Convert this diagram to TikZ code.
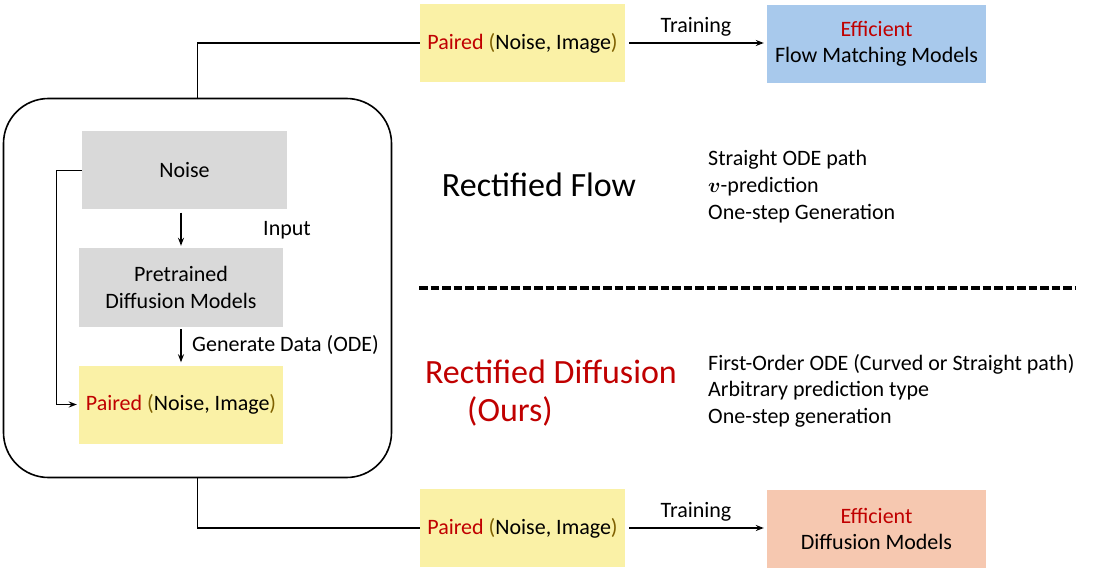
\documentclass[tikz,border=0pt]{standalone}
\usepackage{fontspec}
\usepackage{amsmath}
\setmainfont{Carlito}
\usetikzlibrary{arrows.meta}
\definecolor{myred}{HTML}{C00000}
\definecolor{olive}{HTML}{7F6000}
\definecolor{boxgray}{RGB}{217,217,217}
\definecolor{boxyellow}{RGB}{250,241,166}
\definecolor{boxblue}{RGB}{168,201,236}
\definecolor{boxsalmon}{RGB}{246,200,176}
\newcommand{\pairtext}{\textcolor{myred}{Paired} \textcolor{olive}{(}Noise, Image\textcolor{olive}{)}}
\begin{document}
\begin{tikzpicture}[x=1pt,y=-1pt,
  txt/.style={font=\fontsize{22}{26.5}\selectfont},
  box/.style={txt, inner sep=0pt, align=center, minimum width=205pt, minimum height=78pt},
  big/.style={font=\fontsize{34}{39}\selectfont},
  item/.style={txt, anchor=west, inner sep=0pt, text height=15pt, text depth=5pt},
  conn/.style={line width=1.3pt},
  arr/.style={conn, -{Stealth[length=8pt,width=6pt]}}
]
\useasboundingbox (0,0) rectangle (1100,572);
% outer rounded frame
\node[draw, line width=1.6pt, rounded corners=45pt, minimum width=388pt, minimum height=379pt] (outer) at (197.5,288) {};
% inner boxes
\node[box, fill=boxgray] (noise) at (184.5,170.5) {Noise};
\node[box, fill=boxgray, minimum width=204pt, minimum height=79pt] (pre) at (181,287.5) {Pretrained\\Diffusion Models};
\node[box, fill=boxyellow, minimum width=204pt] (pairL) at (181,404.5) {\pairtext};
% inner arrows
\draw[arr, shorten <=3pt, shorten >=2pt] (pre.north |- noise.south) -- (pre.north);
\draw[arr, shorten <=2pt, shorten >=3pt] (pre.south) -- (pairL.north);
\node[txt] (inlab) at (287,230) {Input};
\node[txt, anchor=west, inner sep=0pt] (genlab) at (192,345) {Generate Data (ODE)};
\draw[arr, shorten >=2pt] (noise.west) -- ++(-25,0) |- (pairL.west);
% top row
\node[box, fill=boxyellow] (pairT) at (522.5,43) {\pairtext};
\node[box, fill=boxblue, minimum width=219pt] (blue) at (876.5,44) {\textcolor{myred}{Efficient}\\Flow Matching Models};
\draw[conn] (outer.north) |- (pairT.west);
\draw[arr, shorten <=4pt, shorten >=3pt] (pairT.east) -- node[txt, above=3pt] (trT) {Training} (blue.west |- pairT.east);
% bottom row
\node[box, fill=boxyellow] (pairB) at (522.5,528) {\pairtext};
\node[box, fill=boxsalmon, minimum width=219pt] (salmon) at (876.5,529) {\textcolor{myred}{Efficient}\\Diffusion Models};
\draw[conn] (outer.south) |- (pairB.west);
\draw[arr, shorten <=4pt, shorten >=3pt] (pairB.east) -- node[txt, above=3pt] (trB) {Training} (salmon.west |- pairB.east);
% titles
\node[big] (rf) at (539,185) {Rectified Flow};
\node[big, text=myred] (rd) at (551,372) {Rectified Diffusion};
\node[big, text=myred] (ours) at (510,411) {(Ours)};
% dashed separator
\coordinate (dA) at (419,288);
\coordinate (dB) at (1076,288);
\draw[line width=3.4pt, dash pattern=on 8.5pt off 3pt] (dA) -- (dB);
% feature lists
\node[item] (f1) at (708,161) {Straight ODE path};
\node[item] (f2) at (708,187.5) {$\boldsymbol{v}$-prediction};
\node[item] (f3) at (708,214) {One-step Generation};
\node[item] (g1) at (708,365) {First-Order ODE (Curved or Straight path)};
\node[item] (g2) at (708,391.5) {Arbitrary prediction type};
\node[item] (g3) at (708,418) {One-step generation};
\end{tikzpicture}
\end{document}
